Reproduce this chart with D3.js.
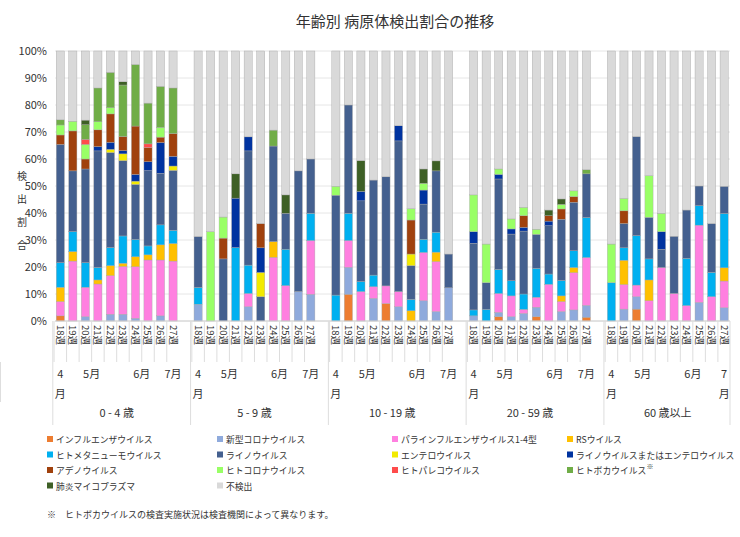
<!DOCTYPE html><html><head><meta charset="utf-8">
<script src="https://cdn.jsdelivr.net/npm/d3@7"></script>
<style>body{margin:0;background:#fff}text{font-family:"Noto Sans CJK JP","Noto Sans",sans-serif;fill:#333}</style></head><body>
<svg id="c" width="740" height="537"></svg>
<script>
const groups=["0 - 4 歳","5 - 9 歳","10 - 19 歳","20 - 59 歳","60 歳以上"];
const weeks=["18週","19週","20週","21週","22週","23週","24週","25週","26週","27週"];
const series=["インフルエンザウイルス","新型コロナウイルス","パラインフルエンザウイルス1-4型","RSウイルス","ヒトメタニューモウイルス","ライノウイルス","エンテロウイルス","ライノウイルスまたはエンテロウイルス","アデノウイルス","ヒトコロナウイルス","ヒトパレコウイルス","ヒトボカウイルス","肺炎マイコプラズマ","不検出"];
const colors=["#ED7D31","#8FAADC","#FF80E0","#FFC000","#00B0F0","#44608F","#F2EA00","#0033A0","#A0410D","#99FF66","#FF4B4B","#70AD47","#3E6026","#D9D9D9"];
const yTicks=[0,10,20,30,40,50,60,70,80,90,100];
// each row: [flu,covid,para,RS,hMPV,rhino,entero,rhinoEnt,adeno,hCoV,hPeV,boca,myco] ; 不検出 = remainder
const age0_4=[
[1.9,0,5.3,5.3,9.1,43.8,0,0,3.5,3.7,0,1.9,0],
[0,0,22.2,3.5,7.4,22.5,0,0,14.8,3.6,0,0,0],
[0,1.6,10.9,0,9.1,34.7,0,0,3.7,5.4,1.9,5.4,1.7],
[0,0,13.7,1.5,4.6,43.2,0,1.6,6.2,3.0,0,12.5,0],
[0,2.5,14.3,3.7,6.7,35.2,1.2,2.6,10.5,2.3,0,13.1,0],
[0,2.5,17.7,1.2,10.1,27.9,2.5,1.2,5.2,0,0,19.1,1.2],
[0,1,19.1,3.7,6.4,20.4,1.2,2.5,17.9,0,0,22.8,0],
[0,0,22.6,1.9,3.3,27.9,0,3.3,5.2,0,1.4,15.1,0],
[0,1.9,20.7,5.6,7.4,19.1,0,11.4,2.0,3.6,0,15.2,0],
[0,0,22.2,6.5,4.9,22.2,1.6,3.6,8.4,0,0,16.9,0]];
const age5_9=[
[0,6.2,0,0,6.2,18.9,0,0,0,0,0,0,0],
[0,0,0,0,0,0,0,0,0,33.1,0,0,0],
[0,0,0,0,0,23,0,0,7.7,7.8,0,0,0],
[0,0,0,0,27.2,0,0,18.3,0,0,0,0,9.0],
[0,5.3,4.9,0,10.5,42.3,0,5.2,0,0,0,0,0],
[0,0,0,0,0,9.0,9.0,9.1,9.0,0,0,0,0],
[0,0,23.6,5.8,0,35.4,0,0,0,0,0,5.9,0],
[0,0,13.1,0,13.5,13.3,0,0,0,0,0,0,6.8],
[0,10.9,0,0,0,44.7,0,0,0,0,0,0,0],
[0,9.9,19.9,0,10.1,20.1,0,0,0,0,0,0,0]];
const age10_19=[
[0,0,0,0,9.6,37,0,0,0,3.3,0,0,0],
[9.9,10,9.9,0,10.1,40.1,0,0,0,0,0,0,0],
[0,0,10.9,0,3.7,29.9,0,3.5,0,0,0,0,11.4],
[0,8.4,4.3,0,4.3,35.2,0,0,0,0,0,0,0],
[6.5,0,6.5,0,0,40.4,0,0,0,0,0,0,0],
[0,5.3,5.6,0,0,55.8,0,5.6,0,0,0,0,0],
[0,0,0,3.8,4.2,12.5,4.3,0,12.6,4.2,0,0,0],
[0,7.5,17.9,0,4.9,13,0,5.2,0,2.5,0,0,5.3],
[0,3.5,18.5,3.5,7.4,22.7,0,0,0,0,0,0,3.7],
[0,12.3,0,0,0,12.5,0,0,0,0,0,0,0]];
const age20_59=[
[0,1.9,0,0,2.2,24.7,0,4.3,0,13.6,0,0,0],
[0,0,0,0,4.3,9.9,0,0,0,14.3,0,0,0],
[1.6,1.6,7,0,8.9,33.5,0,1.7,0,2,0,0,0],
[0,1.6,7.7,0,5.6,17.3,0,1.9,0,3.7,0,0,0],
[0,2.8,1.5,0,5.7,23.3,0,1.4,4.3,3.1,0,0,0],
[1.6,3.5,3.7,0,10.7,12.6,0,0,0,1.9,0,0,0],
[0,0,13.6,0,3.8,17.9,0,1.7,2,0,0,0,2.1],
[0,3.5,3.7,2.1,5.7,22.7,0,0,3.8,1.7,0,0,2],
[0,4.1,13.8,1.9,6.2,18,0,0,2.1,2.1,0,0,0],
[1.4,4.4,17.7,0,14.8,16.2,0,0,0,0,0,1.5,0]];
const age60=[
[0,0,0,0,14.2,0,0,0,0,14.3,0,0,0],
[0,4.4,9.1,9,4.6,9,0,0,4.7,4.6,0,0,0],
[4.4,4.6,4.3,0,18.3,36.7,0,0,0,0,0,0,0],
[0,0,7.5,7.7,7.8,15.4,0,0,0,15.4,0,0,0],
[0,0,19.8,0,0,6.8,0,6.5,0,6.8,0,0,0],
[0,0,10.2,0,0,21.2,0,0,0,0,0,0,0],
[0,0,5.7,0,17.5,17.9,0,0,0,0,0,0,0],
[0,6.9,28.6,0,7.2,7.3,0,0,0,0,0,0,0],
[0,0,9,0,9,18.1,0,0,0,0,0,0,0],
[0,4.9,9.9,4.9,20.1,10.1,0,0,0,0,0,0,0]];
const allGroups=[age0_4,age5_9,age10_19,age20_59,age60];

const svg=d3.select("#c");
const L=55,R=730,T=51,B=321;
const slots=[];
groups.forEach((g,gi)=>{weeks.forEach((w,wi)=>slots.push(gi+"|"+wi));slots.push(gi+"|gap");});
const x=d3.scaleBand().domain(slots).range([L,R+12]).paddingInner(0.35).paddingOuter(0.1);
const step=x.step();
const y=d3.scaleLinear().domain([0,100]).range([B,T]);

svg.append("text").attr("x",395).attr("y",27).attr("text-anchor","middle").attr("font-size",15).text("年齢別 病原体検出割合の推移");
svg.append("g").selectAll("line").data(yTicks).join("line").attr("x1",L).attr("x2",R).attr("y1",d=>y(d)).attr("y2",d=>y(d)).attr("stroke","#e6e6e6");
svg.append("g").selectAll("text").data(yTicks).join("text").attr("x",47).attr("y",d=>y(d)+4).attr("text-anchor","end").attr("font-size",11).text(d=>d+"%");
"検出割合".split("").forEach((c,i)=>svg.append("text").attr("x",22).attr("y",180+i*23).attr("text-anchor","middle").attr("font-size",10).text(c));

const rows=[];
allGroups.forEach((g,gi)=>g.forEach((r,wi)=>{const vals=r.slice();vals.push(Math.max(0,100-d3.sum(r)));const o={key:gi+"|"+wi};series.forEach((s,si)=>o[s]=vals[si]);rows.push(o);}));
const stack=d3.stack().keys(series)(rows);
svg.append("g").selectAll("g").data(stack).join("g").attr("fill",(d,i)=>colors[i])
 .selectAll("rect").data(d=>d.filter(p=>p[1]-p[0]>0)).join("rect")
 .attr("x",d=>x(d.data.key)).attr("width",x.bandwidth()).attr("y",d=>y(d[1])).attr("height",d=>y(d[0])-y(d[1]))
 .attr("stroke","#a6a6a6").attr("stroke-width",0.4);

svg.append("line").attr("x1",L).attr("x2",R).attr("y1",B).attr("y2",B).attr("stroke","#d0d0d0");
const ax=svg.append("g");
groups.forEach((g,gi)=>{
 const gx0=x(gi+"|0")-(step-x.bandwidth())/2-step*0.1;
 ax.append("line").attr("x1",gx0).attr("x2",gx0).attr("y1",B).attr("y2",425).attr("stroke","#ddd");
 if(gi==groups.length-1) ax.append("line").attr("x1",R).attr("x2",R).attr("y1",B).attr("y2",425).attr("stroke","#ddd");
 weeks.forEach((w,wi)=>{
  const cx=x(gi+"|"+wi)+x.bandwidth()/2;
  ax.append("text").attr("transform",`translate(${cx-3.5},${325}) rotate(90)`).attr("font-size",9.5).text(w);
  ax.append("line").attr("x1",cx-step/2).attr("x2",cx-step/2).attr("y1",B).attr("y2",362).attr("stroke","#ddd");
 });
 const c=wi=>x(gi+"|"+wi)+x.bandwidth()/2;
 [[0,"4"],[9,"7"]].forEach(([wi,m])=>{
  if(wi==0||gi==4){ax.append("text").attr("x",c(wi)).attr("y",378).attr("text-anchor","middle").attr("font-size",11).text(m);
   ax.append("text").attr("x",c(wi)).attr("y",398).attr("text-anchor","middle").attr("font-size",11).text("月");}
  else ax.append("text").attr("x",c(wi)).attr("y",378).attr("text-anchor","middle").attr("font-size",11).text(m+"月");
 });
 ax.append("text").attr("x",(c(1)+c(4))/2).attr("y",378).attr("text-anchor","middle").attr("font-size",11).text("5月");
 ax.append("text").attr("x",(c(5)+c(8))/2).attr("y",378).attr("text-anchor","middle").attr("font-size",11).text("6月");
 [0.5,4.5,8.5].forEach(b=>ax.append("line").attr("x1",c(b)).attr("x2",c(b)).attr("y1",362).attr("y2",402).attr("stroke","#ddd"));
 ax.append("text").attr("x",(c(0)+c(9))/2).attr("y",417).attr("text-anchor","middle").attr("font-size",11).text(g);
});
const colX=[47,217,392,567];
series.forEach((s,i)=>{
 const lx=colX[i%4],ly=440+Math.floor(i/4)*15.5;
 svg.append("rect").attr("x",lx).attr("y",ly-4).attr("width",6).attr("height",6).attr("fill",colors[i]);
 const t=svg.append("text").attr("x",lx+9).attr("y",ly+3).attr("font-size",8.8).attr("fill","#555").text(s);
 if(i==11) t.append("tspan").attr("dy",-5).attr("font-size",7).text("※");
});
svg.append("text").attr("x",47).attr("y",518).attr("font-size",9).attr("fill","#555").text("※　ヒトボカウイルスの検査実施状況は検査機関によって異なります。");
</script></body></html>
